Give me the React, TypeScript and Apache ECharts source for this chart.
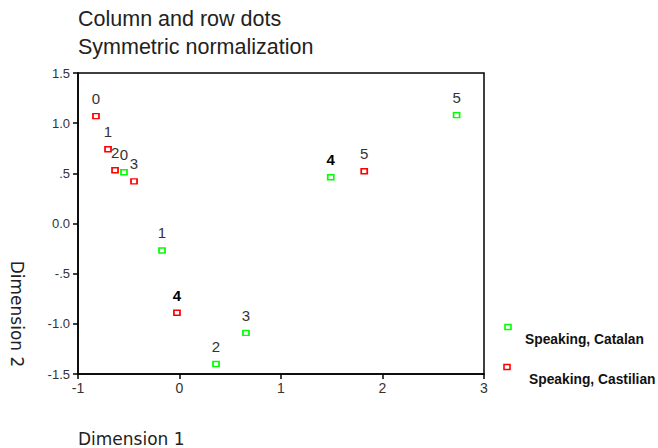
import React, { useEffect, useRef } from "react";
import * as echarts from "echarts";

const titleLines = ["Column and row dots", "Symmetric normalization"];
const xAxisName = "Dimension 1";
const yAxisName = "Dimension 2";
const seriesNames = ["Speaking, Catalan", "Speaking, Castilian"];
const seriesColors = ["#00ff00", "#ff0000"];

const catalanX = [-0.547, -0.172, 0.36, 0.655, 1.49, 2.73];
const catalanY = [0.51, -0.27, -1.4, -1.09, 0.46, 1.08];
const catalanLabels = ["0", "1", "2", "3", "4", "5"];

const castilianX = [-0.823, -0.704, -0.635, -0.448, -0.025, 1.82];
const castilianY = [1.07, 0.74, 0.53, 0.42, -0.89, 0.52];
const castilianLabels = ["0", "1", "2", "3", "4", "5"];

const xTickLabels: Record<string, string> = { "-1": "-1", "0": "0", "1": "1", "2": "2", "3": "3" };
const yTickLabels: Record<string, string> = {
  "1.5": "1.5",
  "1": "1.0",
  "0.5": ".5",
  "0": "0.0",
  "-0.5": "-.5",
  "-1": "-1.0",
  "-1.5": "-1.5",
};

const FONT = "'Liberation Sans', Arial, sans-serif";
const WIDE_FONT = "'DejaVu Sans', sans-serif";

function buildData(xs: number[], ys: number[], labels: string[]) {
  return xs.map((x, i) => ({
    value: [x, ys[i], labels[i]],
    label: labels[i] === "4" ? { fontWeight: "bold" as const, color: "#000" } : undefined,
  }));
}

export default function App() {
  const ref = useRef<HTMLDivElement>(null);
  useEffect(() => {
    if (!ref.current) return;
    const chart = echarts.init(ref.current, undefined, { renderer: "svg" });
    const makeSeries = (name: string, color: string, data: any[]) => ({
      type: "scatter",
      name,
      data,
      symbol: "rect",
      symbolSize: [6, 5],
      itemStyle: { color: "#ffffff", borderColor: color, borderWidth: 1.6, opacity: 1 },
      label: {
        show: true,
        position: "top",
        distance: 7,
        fontSize: 15,
        fontFamily: FONT,
        color: "#333",
        formatter: (p: any) => p.value[2],
      },
      emphasis: { disabled: true },
    });
    chart.setOption({
      animation: false,
      backgroundColor: "#ffffff",
      title: {
        text: titleLines.join("\n"),
        left: 78,
        top: 5,
        padding: 0,
        textStyle: {
          fontSize: 21.5,
          fontWeight: "normal",
          fontFamily: FONT,
          color: "#222",
          lineHeight: 28,
        },
      },
      grid: {
        left: 78,
        right: 174,
        top: 73,
        bottom: 74,
        show: true,
        borderColor: "#000",
        borderWidth: 1.5,
        backgroundColor: "transparent",
      },
      xAxis: {
        type: "value",
        min: -1,
        max: 3,
        interval: 1,
        axisLine: { show: true, onZero: false, lineStyle: { color: "#000", width: 1.5 } },
        axisTick: { show: true, inside: false, length: 5, lineStyle: { color: "#000", width: 1.5 } },
        splitLine: { show: false },
        axisLabel: {
          fontSize: 14,
          fontFamily: FONT,
          color: "#333",
          margin: 7,
          formatter: (v: number) => xTickLabels[String(v)] ?? String(v),
        },
      },
      yAxis: {
        type: "value",
        min: -1.5,
        max: 1.5,
        interval: 0.5,
        axisLine: { show: true, onZero: false, lineStyle: { color: "#000", width: 1.5 } },
        axisTick: { show: true, inside: false, length: 5, lineStyle: { color: "#000", width: 1.5 } },
        splitLine: { show: false },
        axisLabel: {
          fontSize: 13,
          fontFamily: FONT,
          color: "#333",
          margin: 8,
          formatter: (v: number) => yTickLabels[String(v)] ?? String(v),
        },
      },
      series: [
        makeSeries(seriesNames[0], seriesColors[0], buildData(catalanX, catalanY, catalanLabels)),
        makeSeries(seriesNames[1], seriesColors[1], buildData(castilianX, castilianY, castilianLabels)),
      ],
      graphic: [
        {
          type: "text",
          left: 78,
          top: 430,
          style: { text: xAxisName, fontSize: 17, fontFamily: WIDE_FONT, fill: "#222" },
        },
        {
          type: "text",
          x: 17,
          y: 314,
          rotation: -Math.PI / 2,
          style: {
            text: yAxisName,
            fontSize: 17,
            fontFamily: WIDE_FONT,
            fill: "#222",
            align: "center",
            verticalAlign: "middle",
          },
        },
        {
          type: "rect",
          shape: { x: 505, y: 324.5, width: 6, height: 5 },
          style: { fill: "#fff", stroke: seriesColors[0], lineWidth: 1.6 },
        },
        {
          type: "text",
          x: 525,
          y: 339,
          style: {
            text: seriesNames[0],
            fontSize: 13.8,
            fontWeight: "bold",
            fontFamily: FONT,
            fill: "#111",
            verticalAlign: "middle",
          },
        },
        {
          type: "rect",
          shape: { x: 504, y: 364.5, width: 6, height: 5 },
          style: { fill: "#fff", stroke: seriesColors[1], lineWidth: 1.6 },
        },
        {
          type: "text",
          x: 529,
          y: 379,
          style: {
            text: seriesNames[1],
            fontSize: 13.8,
            fontWeight: "bold",
            fontFamily: FONT,
            fill: "#111",
            verticalAlign: "middle",
          },
        },
      ],
    });
    return () => chart.dispose();
  }, []);
  return <div ref={ref} style={{ width: 658, height: 448, position: "absolute", left: 0, top: 0 }} />;
}
